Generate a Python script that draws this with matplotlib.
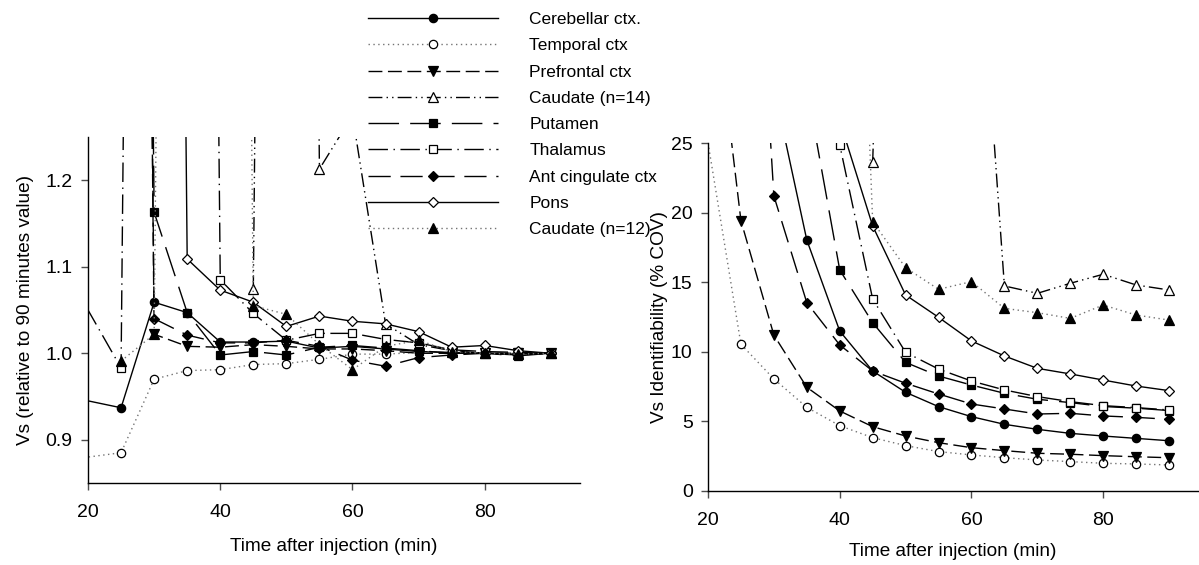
import matplotlib
matplotlib.use("Agg")
import matplotlib.pyplot as plt
import numpy as np

plt.rcParams['font.family'] = ['Liberation Sans', 'DejaVu Sans']
plt.rcParams['lines.scale_dashes'] = False

nan = np.nan
times = [15, 25, 30, 35, 40, 45, 50, 55, 60, 65, 70, 75, 80, 85, 90]
x_ticks = [20, 40, 60, 80]

labels = ['Cerebellar ctx.', 'Temporal ctx', 'Prefrontal ctx', 'Caudate (n=14)',
          'Putamen', 'Thalamus', 'Ant cingulate ctx', 'Pons', 'Caudate (n=12)']

# left panel: Vs relative to 90 min value (off-scale early points kept large)
rel_cereb = [0.953, 0.937, 1.059, 1.047, 1.013, 1.013, 1.014, 1.006, 1.008, 1.005, 1.002, 1.001, 1.0, 0.999, 1.0]
rel_temporal = [0.875, 0.885, 0.970, 0.980, 0.981, 0.987, 0.988, 0.993, 0.999, 0.999, 1.001, 1.002, 1.0, 1.0, 1.0]
rel_prefrontal = [nan, 5, 1.022, 1.008, 1.007, 1.010, 1.008, 1.005, 1.005, 1.003, 1.0, 1.0, 1.0, 1.0, 1.0]
rel_caud14 = [nan, nan, nan, nan, nan, 1.074, 5, 1.213, 1.275, 1.034, 1.010, 1.003, 1.0, 1.0, 1.0]
rel_putamen = [nan, 5, 1.163, 1.047, 0.998, 1.002, 0.998, 1.007, 1.009, 1.006, 1.003, 1.0, 1.0, 0.997, 1.0]
rel_thalamus = [1.117, 0.983, 5, 5, 1.085, 1.046, 1.015, 1.023, 1.023, 1.016, 1.012, 1.004, 1.002, 1.001, 1.0]
rel_antcing = [nan, 5, 1.040, 1.021, 1.012, 1.012, 1.015, 1.008, 0.992, 0.985, 0.995, 0.998, 1.0, 0.998, 1.0]
rel_pons = [nan, nan, 5, 1.109, 1.073, 1.059, 1.031, 1.043, 1.037, 1.034, 1.025, 1.007, 1.009, 1.003, 1.0]
rel_caud12 = [nan, 0.991, 1.022, 5, 5, 1.055, 1.045, 1.010, 0.981, 1.008, 1.015, 1.002, 1.0, 0.999, 1.0]

# right panel: Vs identifiability (% COV)
cov_cereb = [nan, nan, 29, 18.03, 11.49, 8.62, 7.09, 6.06, 5.34, 4.79, 4.43, 4.14, 3.95, 3.78, 3.61]
cov_temporal = [39.5, 10.54, 8.05, 6.01, 4.69, 3.83, 3.26, 2.83, 2.59, 2.39, 2.23, 2.11, 1.99, 1.94, 1.87]
cov_prefrontal = [59, 19.42, 11.2, 7.45, 5.75, 4.62, 3.95, 3.47, 3.11, 2.90, 2.71, 2.64, 2.54, 2.46, 2.39]
cov_caud14 = [nan, nan, nan, nan, nan, 23.6, 100, 100, 48, 14.73, 14.2, 14.92, 15.57, 14.8, 14.44]
cov_putamen = [nan, nan, nan, 29, 15.88, 12.09, 9.24, 8.26, 7.61, 7.02, 6.59, 6.35, 6.07, 5.95, 5.78]
cov_thalamus = [nan, nan, nan, 60, 24.86, 13.79, 9.96, 8.76, 7.90, 7.26, 6.78, 6.42, 6.13, 5.99, 5.82]
cov_antcing = [nan, 60, 21.2, 13.53, 10.49, 8.62, 7.74, 6.97, 6.25, 5.89, 5.53, 5.58, 5.39, 5.29, 5.15]
cov_pons = [nan, nan, nan, nan, 26.6, 19.04, 14.08, 12.48, 10.78, 9.70, 8.81, 8.41, 7.97, 7.54, 7.21]
cov_caud12 = [nan, nan, nan, nan, 80, 19.35, 16.04, 14.49, 15.04, 13.12, 12.81, 12.40, 13.36, 12.64, 12.28]

left_series = [rel_cereb, rel_temporal, rel_prefrontal, rel_caud14, rel_putamen,
               rel_thalamus, rel_antcing, rel_pons, rel_caud12]
right_series = [cov_cereb, cov_temporal, cov_prefrontal, cov_caud14, cov_putamen,
                cov_thalamus, cov_antcing, cov_pons, cov_caud12]

# (linestyle, line colour, marker, marker face)
styles = [
    ('-', 'black', 'o', 'black'),
    ((0, (1, 2.5)), '0.45', 'o', 'white'),
    ((0, (10, 4)), 'black', 'v', 'black'),
    ((0, (10, 3, 1, 3, 1, 3)), 'black', '^', 'white'),
    ((0, (22, 8)), 'black', 's', 'black'),
    ((0, (14, 4, 1, 4)), 'black', 's', 'white'),
    ((0, (16, 7)), 'black', 'D', 'black'),
    ('-', 'black', 'D', 'white'),
    ((0, (1, 2.5)), '0.45', '^', 'black'),
]
msizes = {'o': 6, 'v': 6.5, '^': 6.5, 's': 5.5, 'D': 5}

fig = plt.figure(figsize=(11.99, 5.65), dpi=100)
ax1 = fig.add_axes([0.0734, 0.1451, 0.4103, 0.6124])
ax2 = fig.add_axes([0.5905, 0.1310, 0.4087, 0.6159])

handles = []
for vals_l, vals_r, (ls, lc, mk, mf), lab in zip(left_series, right_series, styles, labels):
    for ax, vals in ((ax1, vals_l), (ax2, vals_r)):
        h, = ax.plot(times, vals, linestyle=ls, color=lc, lw=1.0, marker=mk,
                     markersize=msizes[mk], markerfacecolor=mf, markeredgecolor='black',
                     markeredgewidth=0.9, label=lab)
    handles.append(h)

for ax in (ax1, ax2):
    ax.spines['top'].set_visible(False)
    ax.spines['right'].set_visible(False)
    ax.spines['left'].set_linewidth(1.0)
    ax.spines['bottom'].set_linewidth(1.0)
    ax.set_xlim(20, 94.4)
    ax.set_xticks(x_ticks)
    ax.tick_params(direction='out', length=5, width=1, labelsize=14, color='0.3')
    ax.tick_params(axis='x', pad=10)
    ax.tick_params(axis='y', pad=6)

ax1.set_xlabel('Time after injection (min)', fontsize=13.7, labelpad=12)
ax2.set_xlabel('Time after injection (min)', fontsize=13.7, labelpad=10)

ax1.set_ylim(0.85, 1.25)
ax1.set_yticks([0.9, 1.0, 1.1, 1.2])
ax1.set_yticklabels(['0.9', '1.0', '1.1', '1.2'])
ax1.set_ylabel('Vs (relative to 90 minutes value)', fontsize=13.7, labelpad=8)

ax2.set_ylim(0, 25)
ax2.set_yticks([0, 5, 10, 15, 20, 25])
ax2.set_ylabel('Vs Identifiability (% COV)', fontsize=13.7, labelpad=2)

fig.legend(handles, labels, loc='upper left', bbox_to_anchor=(368 / 1199, 1 - 12 / 565),
           frameon=False, numpoints=1, fontsize=12.5, handlelength=7.5,
           handletextpad=1.8, labelspacing=0.64, borderpad=0, borderaxespad=0)

fig.savefig('out.png', dpi=100)
